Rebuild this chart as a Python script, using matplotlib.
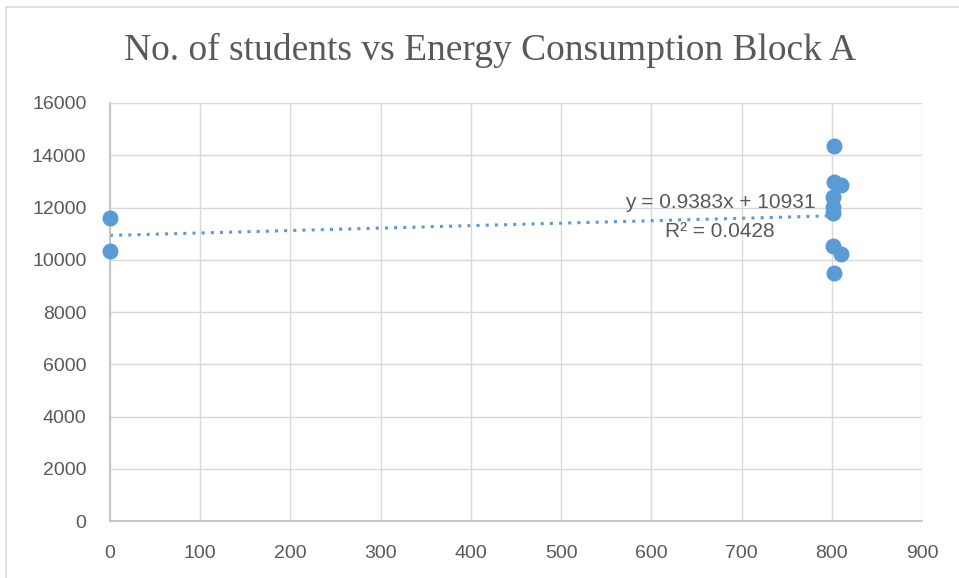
import matplotlib.pyplot as plt
from matplotlib.patches import Rectangle

# Datos
estudiantes = [0, 0, 802, 803, 810, 801, 801, 801, 801, 810, 802]
energia = [11580, 10320, 14350, 12970, 12850, 12400, 12020, 11790, 10540, 10220, 9500]
pendiente = 0.9383
intercepto = 10931
r2 = 0.0428
xticks = [0, 100, 200, 300, 400, 500, 600, 700, 800, 900]
yticks = [0, 2000, 4000, 6000, 8000, 10000, 12000, 14000, 16000]

azul = '#5B9BD5'
gris = '#595959'

fig = plt.figure(figsize=(9.59, 5.78), dpi=100)
ax = fig.add_axes([0.1147, 0.0986, 0.8467, 0.7232])

# Linea de tendencia
x_tend = [0, max(estudiantes)]
y_tend = [pendiente * x + intercepto for x in x_tend]
ax.plot(x_tend, y_tend, color=azul, linestyle=(0, (1, 2)), linewidth=2.2, zorder=2)

ax.scatter(estudiantes, energia, color=azul, s=110, zorder=3, clip_on=False)

ax.set_xlim(0, 900)
ax.set_ylim(0, 16000)
ax.set_xticks(xticks)
ax.set_yticks(yticks)
ax.grid(True, color='#D9D9D9', linewidth=1)
ax.set_axisbelow(True)
for lado in ['top', 'right']:
    ax.spines[lado].set_visible(False)
for lado in ['left', 'bottom']:
    ax.spines[lado].set_color('#BFBFBF')
    ax.spines[lado].set_linewidth(1.2)
ax.tick_params(length=0, labelsize=14, colors=gris)
ax.tick_params(axis='x', pad=17)
ax.tick_params(axis='y', pad=17)
for lab in ax.get_xticklabels() + ax.get_yticklabels():
    lab.set_fontfamily('Liberation Sans')

ax.text(676, 12210, f'y = {pendiente}x + {intercepto}', ha='center', va='center',
        fontsize=15, color=gris, family='Liberation Sans')
ax.text(676, 11100, f'R² = {r2}', ha='center', va='center',
        fontsize=15, color=gris, family='Liberation Sans')

fig.text(0.511, 0.913, 'No. of students vs Energy Consumption Block A', ha='center', va='center',
         fontsize=27, color=gris, family='Liberation Serif')

fig.patches.append(Rectangle((0.006, -0.01), 1.0, 0.998, transform=fig.transFigure,
                             fill=False, edgecolor='#D9D9D9', linewidth=1.2))

fig.savefig('out.png', dpi=100)
